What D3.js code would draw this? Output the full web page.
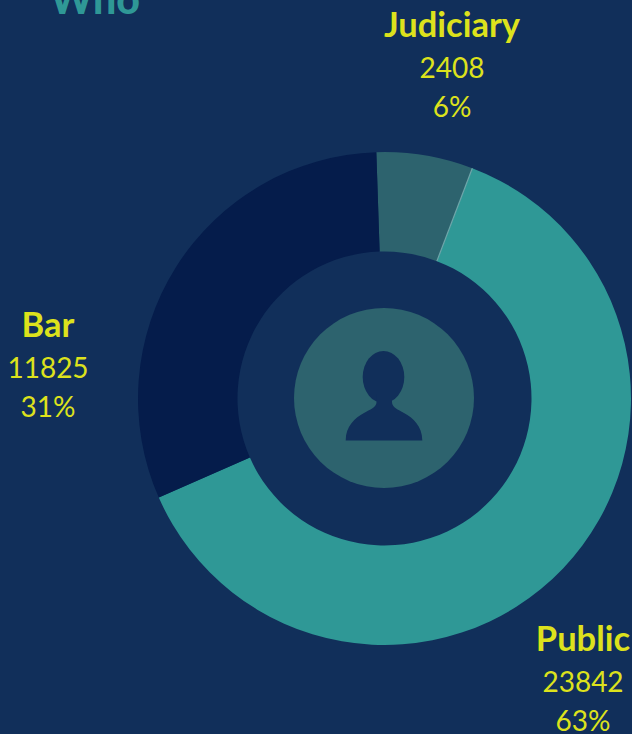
<!DOCTYPE html>
<html>
<head>
<meta charset="utf-8">
<script src="https://cdn.jsdelivr.net/npm/d3@7"></script>
<style>
  html, body { margin: 0; padding: 0; background: #112f5a; overflow: hidden; }
  text { font-family: Lato, "Open Sans", sans-serif; }
</style>
</head>
<body>
<svg id="chart" width="632" height="734"></svg>
<script>
// data
const categories = ["Judiciary", "Public", "Bar"];
const counts = [2408, 23842, 11825];
const percents = ["6%", "63%", "31%"];
const titleText = "Who";

document.addEventListener("DOMContentLoaded", () => {
  const svg = d3.select("#chart");
  const cx = 384.5;
  const cy = 398.5;
  const outerR = 246.5;
  const innerR = 147;
  const iconR = 90;
  const startAngle = -1.9 * Math.PI / 180;

  const color = d3.scaleOrdinal()
    .domain(categories)
    .range(["#2d636e", "#2f9896", "#051c4b"]);

  // title, cut off by the top of the window
  svg.append("text")
    .attr("x", 50)
    .attr("y", 14)
    .attr("font-size", 41)
    .attr("font-weight", 900)
    .attr("fill", "#2f9896")
    .text(titleText);

  //The donut
  const pie = d3.pie()
    .sort(null)
    .startAngle(startAngle)
    .endAngle(startAngle + 2 * Math.PI);
  const arc = d3.arc().innerRadius(innerR).outerRadius(outerR);
  const slices = pie(counts);

  const donut = svg.append("g").attr("transform", `translate(${cx}, ${cy})`);
  donut.selectAll("path")
    .data(slices)
    .enter()
    .append("path")
    .attr("d", arc)
    .attr("fill", (d, i) => color(categories[i]));

  //Thin light seam where judiciary meets public
  const seam = slices[0].endAngle - Math.PI / 2;
  donut.append("line")
    .attr("x1", innerR * Math.cos(seam))
    .attr("y1", innerR * Math.sin(seam))
    .attr("x2", outerR * Math.cos(seam))
    .attr("y2", outerR * Math.sin(seam))
    .attr("stroke", "#6fa6aa")
    .attr("stroke-width", 1.2);

  //Centre circle with the person icon
  const icon = svg.append("g").attr("transform", `translate(${cx - 0.5}, ${cy - 0.5})`);
  icon.append("circle").attr("r", iconR).attr("fill", "#2d636e");
  icon.append("ellipse")
    .attr("cx", -0.5)
    .attr("cy", -21)
    .attr("rx", 20.8)
    .attr("ry", 26)
    .attr("fill", "#112f5a");
  icon.append("path")
    .attr("d", "M-38.3 42.5 C-38.3 28 -29 20 -20 15 C-14 11.5 -7.5 9.5 -7.5 4 L-7.5 -4 L8 -4 L8 4 C8 9.5 14 11.5 20 15 C29 20 38.3 28 38.3 42.5 Z")
    .attr("fill", "#112f5a");

  //Labels
  const labelX = [452, 583, 48];
  const labelY = [37, 651, 337];
  const labels = svg.selectAll("g.label")
    .data(categories)
    .enter()
    .append("g")
    .attr("class", "label")
    .attr("transform", (d, i) => `translate(${labelX[i]}, ${labelY[i]})`)
    .attr("text-anchor", "middle")
    .attr("fill", "#dde21c");
  labels.append("text")
    .attr("font-size", 34.5)
    .attr("font-weight", 700)
    .text((d) => d);
  labels.append("text")
    .attr("y", 41)
    .attr("font-size", 28)
    .text((d, i) => counts[i]);
  labels.append("text")
    .attr("y", 80)
    .attr("font-size", 28)
    .text((d, i) => percents[i]);
});
</script>
</body>
</html>
